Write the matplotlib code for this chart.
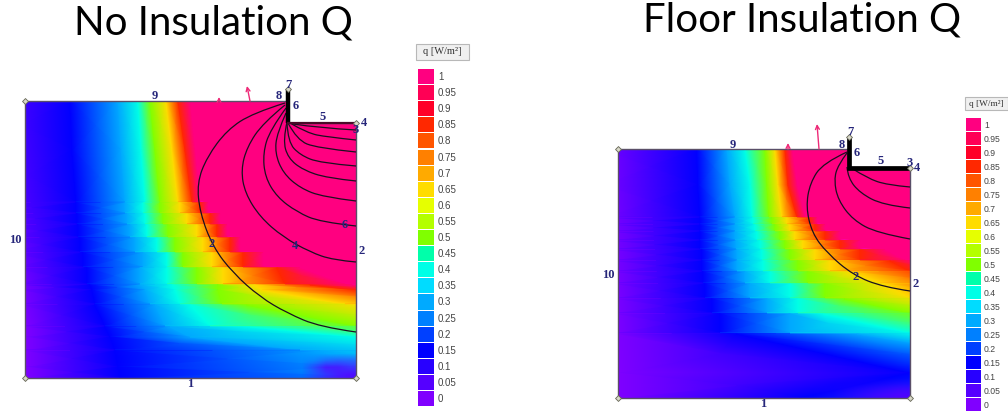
import numpy as np
import matplotlib
matplotlib.use('Agg')
import matplotlib.pyplot as plt
from matplotlib.colors import LinearSegmentedColormap, to_rgb
from matplotlib.patches import Rectangle, PathPatch, Polygon
from matplotlib.path import Path

# legend of the q field
legend_labels = ['1', '0.95', '0.9', '0.85', '0.8', '0.75', '0.7', '0.65', '0.6', '0.55', '0.5',
                 '0.45', '0.4', '0.35', '0.3', '0.25', '0.2', '0.15', '0.1', '0.05', '0']
legend_colors = ['#ff0080', '#ff0055', '#ff0028', '#ff2800', '#ff5500', '#ff8000', '#ffaa00',
                 '#ffdc00', '#e6ff00', '#b4ff00', '#80ff00', '#00ffaa', '#00ffe6', '#00dcff',
                 '#00aaff', '#0080ff', '#0040ff', '#0000ff', '#2800ff', '#5500ff', '#8000ff']

# q value of each column of the tables below
q_levels = [0, 0.15, 0.3, 0.4, 0.5, 0.65, 0.85, 1]

# no insulation: depth of each row, and where q reaches each level along that row
left_y = [101, 150, 202, 203, 213, 214, 224, 225, 237, 238, 252, 253, 267, 268, 284, 285, 290,
          304, 305, 326, 327, 337, 350, 351, 367, 378]
left_x = [[-30, 70, 118, 138, 150, 166, 178, 190],
          [-25, 72, 121, 141, 155, 172, 185, 195],
          [-15, 76, 125, 145, 160, 178, 192, 200],
          [-15, 76, 125, 143, 160, 180, 200, 208],
          [-10, 76, 125, 143, 160, 180, 200, 208],
          [-10, 77, 127, 145, 163, 187, 210, 220],
          [-5, 77, 127, 145, 163, 187, 210, 220],
          [-5, 78, 130, 147, 168, 197, 217, 227],
          [0, 78, 130, 147, 168, 197, 217, 227],
          [0, 80, 135, 157, 175, 203, 230, 240],
          [5, 80, 135, 157, 175, 203, 230, 240],
          [5, 83, 143, 167, 183, 212, 243, 263],
          [10, 83, 143, 167, 183, 212, 243, 263],
          [10, 87, 140, 167, 197, 223, 277, 300],
          [15, 87, 140, 167, 197, 223, 285, 345],
          [15, 90, 140, 172, 218, 255, 310, 352],
          [18, 92, 145, 175, 218, 262, 356, 400],
          [20, 95, 150, 180, 222, 345, 470, 520],
          [20, 95, 155, 190, 247, 365, 480, 530],
          [25, 105, 165, 210, 356, 470, 560, 600],
          [25, 105, 170, 250, 400, 500, 580, 620],
          [25, 110, 190, 356, 460, 540, 600, 640],
          [25, 115, 300, 470, 540, 600, 640, 680],
          [25, 115, 320, 480, 550, 610, 650, 690],
          [25, 118, 356, 500, 570, 630, 670, 710],
          [25, 120, 400, 520, 590, 650, 690, 730]]

# floor insulation
right_y = [149, 185, 217, 218, 224, 225, 231, 232, 240, 241, 249, 250, 260, 261, 271, 272, 283,
           284, 298, 299, 313, 314, 333, 334, 373, 398]
right_x = [[600, 697, 727, 745, 765, 775, 785, 792],
           [602, 698, 730, 750, 767, 778, 788, 797],
           [605, 700, 735, 752, 769, 782, 797, 805],
           [605, 700, 735, 753, 772, 787, 810, 817],
           [606, 700, 735, 753, 772, 787, 810, 817],
           [606, 700, 735, 755, 775, 790, 815, 825],
           [607, 700, 735, 755, 775, 790, 815, 825],
           [607, 700, 735, 757, 780, 795, 825, 840],
           [608, 700, 735, 757, 780, 795, 825, 840],
           [608, 700, 736, 760, 785, 803, 840, 860],
           [609, 700, 736, 760, 785, 803, 840, 860],
           [609, 702, 737, 762, 790, 815, 860, 885],
           [610, 702, 737, 762, 790, 815, 860, 905],
           [610, 702, 737, 763, 798, 830, 890, 915],
           [611, 702, 737, 763, 798, 830, 910, 950],
           [611, 703, 745, 770, 808, 850, 925, 960],
           [612, 703, 745, 770, 808, 880, 960, 1000],
           [612, 705, 750, 790, 825, 885, 965, 1005],
           [613, 705, 750, 790, 825, 910, 995, 1035],
           [613, 712, 767, 798, 845, 925, 1000, 1040],
           [614, 712, 767, 798, 910, 990, 1040, 1080],
           [614, 720, 790, 823, 925, 1000, 1050, 1090],
           [615, 720, 790, 910, 1000, 1060, 1100, 1140],
           [615, 737, 857, 920, 1010, 1070, 1110, 1150],
           [618, 910, 1100, 1160, 1200, 1240, 1280, 1320],
           [618, 800, 1400, 1460, 1500, 1540, 1580, 1620]]

# darker spots in the lower right corners, strength of the violet on a small grid
left_spot = [[0, 0, 0, 0, 0],
             [0, 0.1, 0.3, 0.4, 0.4],
             [0, 0.4, 0.8, 0.8, 0.7],
             [0, 0.3, 0.6, 0.8, 0.9]]
right_spot = [[0, 0, 0, 0, 0],
              [0, 0, 0.1, 0.2, 0.3],
              [0, 0.1, 0.3, 0.5, 0.7],
              [0, 0.1, 0.4, 0.7, 0.9]]

# outlines of the two domains
left_outline = [(25, 101), (288, 101), (288, 123), (356, 123), (356, 378), (25, 378)]
right_outline = [(618, 149), (849, 149), (849, 168), (910, 168), (910, 398), (618, 398)]

# q isolines
left_contours = [
    [(285, 103), (253, 113), (227, 130), (207, 157), (197, 183), (200, 213), (213, 247), (233, 273),
     (260, 297), (287, 313), (320, 327), (356, 332)],
    [(285, 105), (263, 123), (247, 147), (241, 170), (245, 193), (260, 217), (283, 237), (310, 252),
     (333, 260), (356, 262)],
    [(286, 108), (270, 130), (263, 153), (265, 177), (277, 197), (297, 212), (320, 222), (356, 226)],
    [(286, 113), (277, 133), (275, 153), (283, 173), (300, 188), (323, 197), (356, 201)],
    [(287, 122), (283, 140), (288, 158), (303, 170), (327, 178), (356, 181)],
    [(287, 123), (288, 142), (300, 155), (320, 163), (356, 166)],
    [(288, 123), (297, 140), (317, 148), (356, 152)],
    [(290, 123), (307, 133), (327, 137), (356, 140)],
    [(293, 124), (320, 128), (356, 130)]]
right_contours = [
    [(847, 152), (823, 163), (810, 183), (806, 207), (812, 233), (827, 253), (853, 275), (883, 287),
     (910, 291)],
    [(847, 153), (838, 165), (834, 180), (838, 200), (853, 220), (877, 233), (910, 239)],
    [(847, 167), (848, 178), (860, 193), (883, 205), (910, 208)],
    [(853, 169), (867, 178), (887, 185), (910, 187)]]

# walls with a fixed temperature
left_walls = [(288, 89), (288, 123)]
left_floor = [(288, 123), (356, 123)]
right_walls = [(849, 138), (849, 168), (910, 168)]

# number labels, as on the boundary
left_labels = [('9', 155, 96), ('8', 279, 96), ('7', 288, 85), ('6', 296, 106), ('5', 323, 117),
               ('4', 364, 123), ('3', 356, 130), ('2', 362, 251), ('10', 15, 240), ('1', 190, 384),
               ('2', 212, 244), ('4', 295, 246), ('6', 345, 225)]
right_labels = [('9', 733, 145), ('8', 842, 145), ('7', 850, 132), ('6', 857, 153), ('5', 881, 161),
                ('4', 917, 168), ('3', 910, 163), ('2', 916, 284), ('10', 608, 275), ('1', 763, 404),
                ('2', 856, 277)]
left_marks = [(25, 101), (25, 378), (356, 378), (288, 89), (356, 123)]
right_marks = [(618, 149), (618, 398), (910, 398), (849, 137), (910, 168)]
left_arrows = [((250, 101), (247, 86)), ((219, 101), (219, 97))]
right_arrows = [((819, 149), (817, 124)), ((788, 149), (788, 143))]

blue_text = '#26267a'
grey_line = '#5a4f68'
pink = '#ee2a78'

cmap = LinearSegmentedColormap.from_list('q', legend_colors[::-1], N=256)


def smooth_path(points):
    # quadratic curve through the midpoints, so the isolines are not jagged
    pts = np.array(points, dtype=float)
    verts = [tuple(pts[0])]
    codes = [Path.MOVETO]
    for i in range(1, len(pts) - 1):
        mid = (pts[i] + pts[i + 1]) / 2 if i < len(pts) - 2 else pts[i + 1]
        verts += [tuple(pts[i]), tuple(mid)]
        codes += [Path.CURVE3, Path.CURVE3]
    return Path(verts, codes)


def draw_field(ax, y, x, outline, spot, spot_box):
    # everything right of the last level is q = 1
    ax.add_patch(Polygon(outline, closed=True, facecolor=legend_colors[0], edgecolor='none', zorder=0.5))
    x = np.array(x, dtype=float)
    y = np.array(y, dtype=float)
    Y = np.repeat(y[:, None], x.shape[1], axis=1)
    C = np.repeat(np.array(q_levels)[None, :], x.shape[0], axis=0)
    mesh = ax.pcolormesh(x, Y, C, shading='gouraud', cmap=cmap, vmin=0, vmax=1, zorder=1)
    clip = Polygon(outline, closed=True, transform=ax.transData, fill=False, edgecolor='none')
    ax.add_patch(clip)
    mesh.set_clip_path(clip)

    spot = np.array(spot)
    rgba = np.zeros(spot.shape + (4,))
    rgba[..., :3] = to_rgb('#5500ff')
    rgba[..., 3] = spot
    ax.imshow(rgba, extent=spot_box, origin='upper', aspect='auto', interpolation='bilinear', zorder=1.5)
    ax.add_patch(Polygon(outline, closed=True, fill=False, edgecolor=grey_line, linewidth=1.0, zorder=3))


def draw_contours(ax, contours):
    for c in contours:
        ax.add_patch(PathPatch(smooth_path(c), fill=False, edgecolor='#1a1020', linewidth=0.9, zorder=4))


def draw_labels(ax, labels, size):
    for s, x, y in labels:
        ax.text(x, y, s, ha='center', va='center', color=blue_text, fontsize=size, fontweight='bold',
                family='Liberation Serif', zorder=7)


def draw_legend(ax, x0, width, y0, height, label_x, head_box, size):
    ax.add_patch(Rectangle((head_box[0], head_box[1]), head_box[2], head_box[3], facecolor='#f0f0f0',
                           edgecolor='#b8b8b8', linewidth=0.8, zorder=2))
    ax.text(head_box[0] + head_box[2] / 2, head_box[1] + head_box[3] / 2, 'q [W/m²]', ha='center', va='center',
            fontsize=size + 0.5, family='Liberation Serif', color='#333333', zorder=3)
    for i, (lab, col) in enumerate(zip(legend_labels, legend_colors)):
        ax.add_patch(Rectangle((x0, y0 + i * height), width, height - 1, facecolor=col, edgecolor='none', zorder=2))
        ax.text(label_x, y0 + (i + 0.5) * height, lab, ha='left', va='center', fontsize=size,
                family='Liberation Sans', color='#444444', zorder=3)


fig = plt.figure(figsize=(10.08, 4.13), dpi=100)
ax = fig.add_axes([0, 0, 1, 1])

draw_field(ax, left_y, left_x, left_outline, left_spot, (296, 356, 378, 350))
draw_field(ax, right_y, right_x, right_outline, right_spot, (800, 910, 398, 375))
draw_contours(ax, left_contours)
draw_contours(ax, right_contours)

# walls
ax.plot(*zip(*left_walls), color='black', linewidth=3.2, solid_capstyle='butt', zorder=5)
ax.plot(*zip(*left_floor), color='#4a0a28', linewidth=1.6, zorder=5)
ax.plot(*zip(*right_walls), color='black', linewidth=3.4, solid_joinstyle='miter', solid_capstyle='butt', zorder=5)

for marks in (left_marks, right_marks):
    ax.scatter(*zip(*marks), s=9, marker='D', facecolor='#d8d8c8', edgecolor='#666655', linewidth=0.6, zorder=6)

for start, end in left_arrows + right_arrows:
    ax.annotate('', xy=end, xytext=start, zorder=3,
                arrowprops=dict(arrowstyle='->', color=pink, linewidth=1.0, mutation_scale=7, shrinkA=0, shrinkB=0))

draw_labels(ax, left_labels, 9)
draw_labels(ax, right_labels, 9)

draw_legend(ax, 418, 16, 69, 16.1, 438, (416, 44, 53, 16), 7)
draw_legend(ax, 966, 14.5, 118, 14, 984, (965, 97, 43, 13), 6.2)

ax.text(213, 23, 'No Insulation Q', ha='center', va='center', fontsize=29, family='Lato', color='black')
ax.text(802, 20, 'Floor Insulation Q', ha='center', va='center', fontsize=29, family='Lato', color='black')

ax.set_xlim(0, 1008)
ax.set_ylim(413, 0)
ax.axis('off')
fig.savefig('out.png', dpi=100, facecolor='white')
